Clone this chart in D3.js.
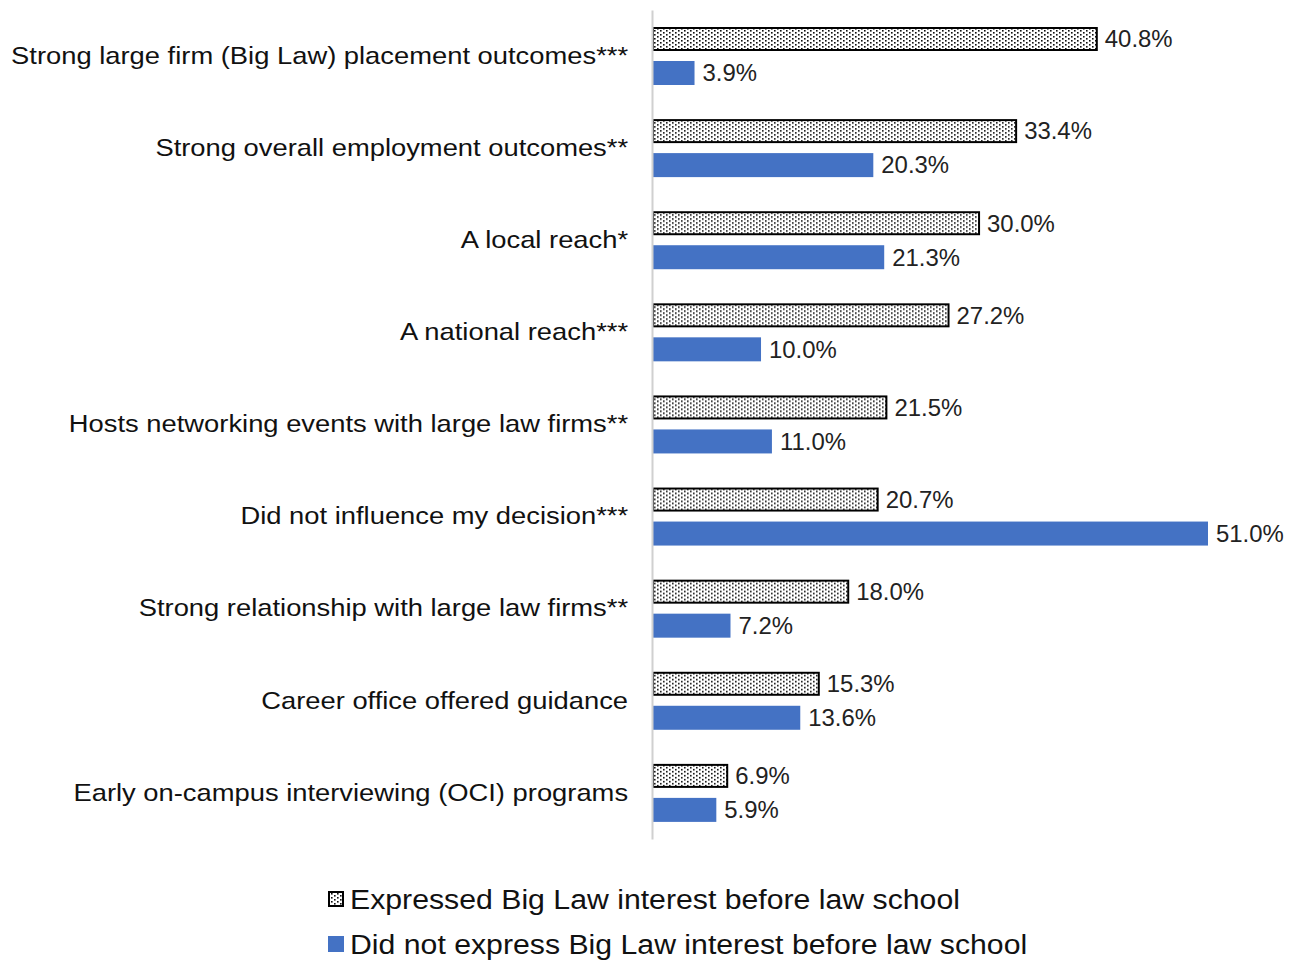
<!DOCTYPE html>
<html>
<head>
<meta charset="utf-8">
<script src="https://cdn.jsdelivr.net/npm/d3@7"></script>
<style>
  html, body { margin: 0; padding: 0; background: #fff; }
  svg { display: block; font-family: "Liberation Sans", Arial, sans-serif; }
</style>
</head>
<body>
<svg id="chart" width="1294" height="961"></svg>
<script>
// Reasons the law school's employment reputation mattered, by prior Big Law interest
const categories = [
  "Strong large firm (Big Law) placement outcomes***",
  "Strong overall employment outcomes**",
  "A local reach*",
  "A national reach***",
  "Hosts networking events with large law firms**",
  "Did not influence my decision***",
  "Strong relationship with large law firms**",
  "Career office offered guidance",
  "Early on-campus interviewing (OCI) programs"
];
const seriesNames = [
  "Expressed Big Law interest before law school",
  "Did not express Big Law interest before law school"
];
const interested = [40.8, 33.4, 30.0, 27.2, 21.5, 20.7, 18.0, 15.3, 6.9];
const notInterested = [3.9, 20.3, 21.3, 10.0, 11.0, 51.0, 7.2, 13.6, 5.9];

const svg = d3.select("#chart");
const blue = "#4472C4";

// Fine dotted fill for the first series
const defs = svg.append("defs");
const pat = defs.append("pattern")
  .attr("id", "dots")
  .attr("patternUnits", "userSpaceOnUse")
  .attr("width", 6).attr("height", 4);
pat.append("rect").attr("width", 6).attr("height", 4).attr("fill", "#fff");
pat.append("rect").attr("x", 0).attr("y", 0).attr("width", 1.6).attr("height", 1.6).attr("fill", "#111");
pat.append("rect").attr("x", 3).attr("y", 2).attr("width", 1.6).attr("height", 1.6).attr("fill", "#111");

const x0 = 652;
const x = d3.scaleLinear().domain([0, 51]).range([x0, 1208]);
const y = d3.scaleBand().domain(categories).range([10, 839]);
// two bars per category: 24px tall, 10px apart, centred in the band
const sub = d3.scaleBand().domain([0, 1]).range([17, 75]).paddingInner(10 / 34);

const rows = categories.map((c, i) => ({ c, vals: [interested[i], notInterested[i]] }));

const g = svg.append("g");
const groups = g.selectAll("g.row").data(rows).join("g")
  .attr("class", "row")
  .attr("transform", d => `translate(0,${y(d.c)})`);

groups.selectAll("rect.bar").data(d => d.vals.map((v, k) => ({ v, k }))).join("rect")
  .attr("class", "bar")
  .attr("x", d => d.k === 0 ? x(0) + 1 : x(0))
  .attr("y", d => sub(d.k) + (d.k === 0 ? 1 : 0))
  .attr("width", d => x(d.v) - x(0) - (d.k === 0 ? 1 : 0))
  .attr("height", d => sub.bandwidth() - (d.k === 0 ? 2 : 0))
  .attr("fill", d => d.k === 0 ? "url(#dots)" : blue)
  .attr("stroke", d => d.k === 0 ? "#000" : "none")
  .attr("stroke-width", 2);

groups.selectAll("text.val").data(d => d.vals.map((v, k) => ({ v, k }))).join("text")
  .attr("class", "val")
  .attr("transform", d => `translate(${x(d.v) + 8},${sub(d.k) + sub.bandwidth() / 2}) scale(1.04,1)`)
  .attr("dy", "0.36em")
  .attr("font-size", 23)
  .attr("fill", "#222")
  .text(d => d.v.toFixed(1) + "%");

// Category axis
const yAxis = d3.axisLeft(y).tickSize(0).tickPadding(21);
const ax = svg.append("g").attr("transform", `translate(${x0},0)`).call(yAxis);
ax.select(".domain").attr("stroke", "#d0d0d0").attr("stroke-width", 2);
ax.selectAll(".tick text")
  .attr("font-size", 24)
  .attr("fill", "#111")
  .attr("transform", "scale(1.14,1)")
  .attr("font-family", "'Liberation Sans', Arial, sans-serif");

// Legend
const legend = svg.append("g").attr("transform", "translate(328,0)");
const legY = [899, 944];
seriesNames.forEach((name, k) => {
  const row = legend.append("g").attr("transform", `translate(0,${legY[k]})`);
  row.append("rect")
    .attr("x", k === 0 ? 1 : 0).attr("y", k === 0 ? -7 : -8)
    .attr("width", k === 0 ? 14 : 16).attr("height", k === 0 ? 14 : 16)
    .attr("fill", k === 0 ? "url(#dots)" : blue)
    .attr("stroke", k === 0 ? "#000" : "none")
    .attr("stroke-width", 2);
  row.append("text")
    .attr("transform", "translate(22,0) scale(1.12,1)")
    .attr("dy", "0.36em")
    .attr("font-size", 27)
    .attr("fill", "#111")
    .text(name);
});
</script>
</body>
</html>
